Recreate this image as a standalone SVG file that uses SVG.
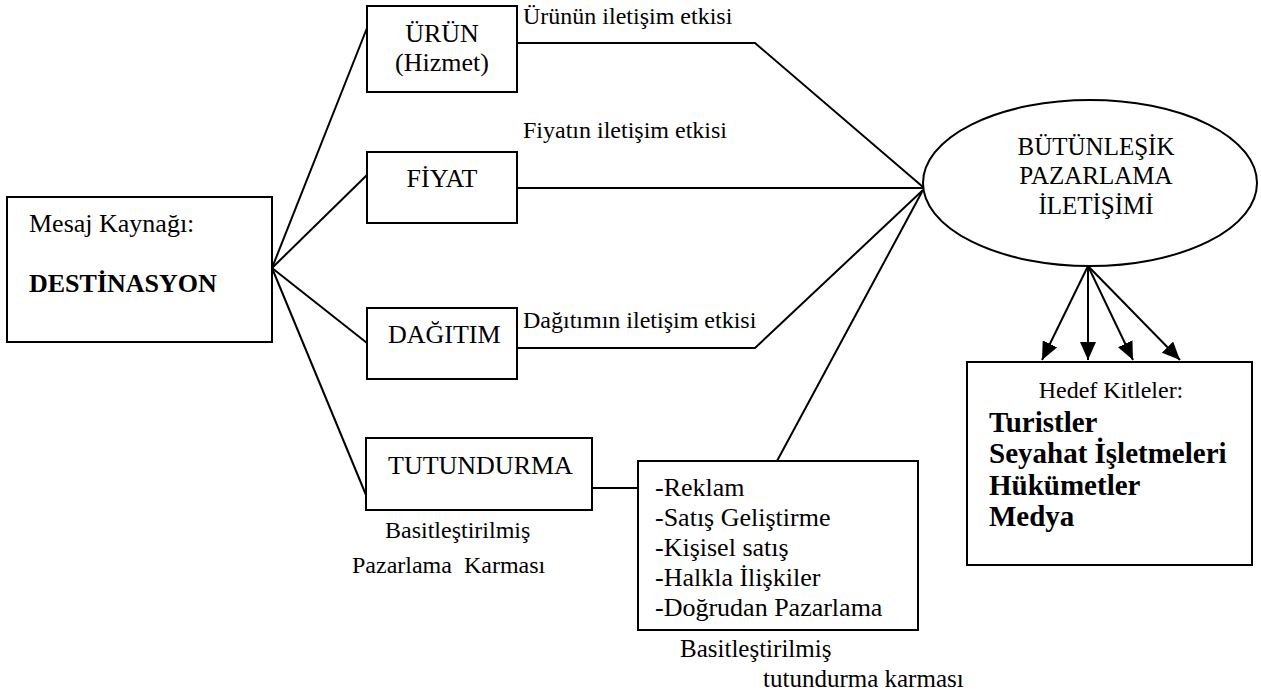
<svg xmlns="http://www.w3.org/2000/svg" width="1261" height="697" viewBox="0 0 1261 697">
<style>
text{font-family:"Liberation Serif","Times New Roman",serif;fill:#000}
.lbl{font-size:26px}
.ann{font-size:24px}
.sub{font-size:25px}
.bold{font-weight:bold}
.big{font-size:29px;font-weight:bold}
.box{fill:#fff;stroke:#000;stroke-width:2}
.con{fill:none;stroke:#000;stroke-width:2}
</style>
<defs>
<marker id="ah" markerWidth="18" markerHeight="16" refX="18" refY="8" orient="auto" markerUnits="userSpaceOnUse"><path d="M0,0 L18,8 L0,16 z" fill="#000"/></marker>
</defs>
<rect width="1261" height="697" fill="#fff"/>
<g id="connectors">
<path class="con" d="M272,268 L367,28"/>
<path class="con" d="M272,268 L367,175"/>
<path class="con" d="M272,268 L367,343"/>
<path class="con" d="M272,268 L366,495"/>
<path class="con" d="M517,43 L755,43 L923,187"/>
<path class="con" d="M517,188 L923,188"/>
<path class="con" d="M517,348 L755,348 L923,190"/>
<path class="con" d="M592,488 L638,488"/>
<path class="con" d="M777,461 L923,190"/>
<path class="con" d="M1088,266 L1042,360" marker-end="url(#ah)"/>
<path class="con" d="M1088,266 L1088,360" marker-end="url(#ah)"/>
<path class="con" d="M1088,266 L1133,360" marker-end="url(#ah)"/>
<path class="con" d="M1088,266 L1180,360" marker-end="url(#ah)"/>
<text class="ann" x="523" y="24">Ürünün iletişim etkisi</text>
<text class="ann" x="523" y="138">Fiyatın iletişim etkisi</text>
<text class="ann" x="523" y="328">Dağıtımın iletişim etkisi</text>
</g>
<g id="destinasyon">
<rect class="box" x="7" y="197" width="265" height="145"/>
<text class="lbl" x="29" y="232">Mesaj Kaynağı:</text>
<text class="lbl bold" x="29" y="292">DESTİNASYON</text>
</g>
<g id="urun">
<rect class="box" x="367" y="6" width="150" height="86"/>
<text class="lbl" x="442" y="42" text-anchor="middle">ÜRÜN</text>
<text class="lbl" x="442" y="71" text-anchor="middle">(Hizmet)</text>
</g>
<g id="fiyat">
<rect class="box" x="367" y="152" width="150" height="71"/>
<text class="lbl" x="442" y="187" text-anchor="middle">FİYAT</text>
</g>
<g id="dagitim">
<rect class="box" x="367" y="308" width="150" height="71"/>
<text class="lbl" x="388" y="343">DAĞITIM</text>
</g>
<g id="tutundurma">
<rect class="box" x="366" y="438" width="226" height="72"/>
<text class="lbl" x="388" y="474">TUTUNDURMA</text>
<text class="ann" x="385" y="538">Basitleştirilmiş</text>
<text class="ann" x="352" y="573" xml:space="preserve">Pazarlama  Karması</text>
</g>
<g id="tutundurma-karmasi">
<rect class="box" x="638" y="461" width="280" height="169"/>
<text class="lbl" x="655" y="496">-Reklam</text>
<text class="lbl" x="655" y="526">-Satış Geliştirme</text>
<text class="lbl" x="655" y="556">-Kişisel satış</text>
<text class="lbl" x="655" y="586">-Halkla İlişkiler</text>
<text class="lbl" x="655" y="616">-Doğrudan Pazarlama</text>
<text class="sub" x="680" y="657">Basitleştirilmiş</text>
<text class="sub" x="763" y="687">tutundurma karması</text>
</g>
<g id="butunlesik">
<ellipse class="box" cx="1090" cy="183" rx="167" ry="83"/>
<text class="sub" x="1096" y="155" text-anchor="middle">BÜTÜNLEŞİK</text>
<text class="sub" x="1096" y="184" text-anchor="middle">PAZARLAMA</text>
<text class="sub" x="1096" y="214" text-anchor="middle">İLETİŞİMİ</text>
</g>
<g id="hedef">
<rect class="box" x="967" y="362" width="285" height="203"/>
<text class="ann" x="1111" y="398" text-anchor="middle">Hedef Kitleler:</text>
<text class="big" x="989" y="432">Turistler</text>
<text class="big" x="989" y="463">Seyahat İşletmeleri</text>
<text class="big" x="989" y="495">Hükümetler</text>
<text class="big" x="989" y="526">Medya</text>
</g>
</svg>
